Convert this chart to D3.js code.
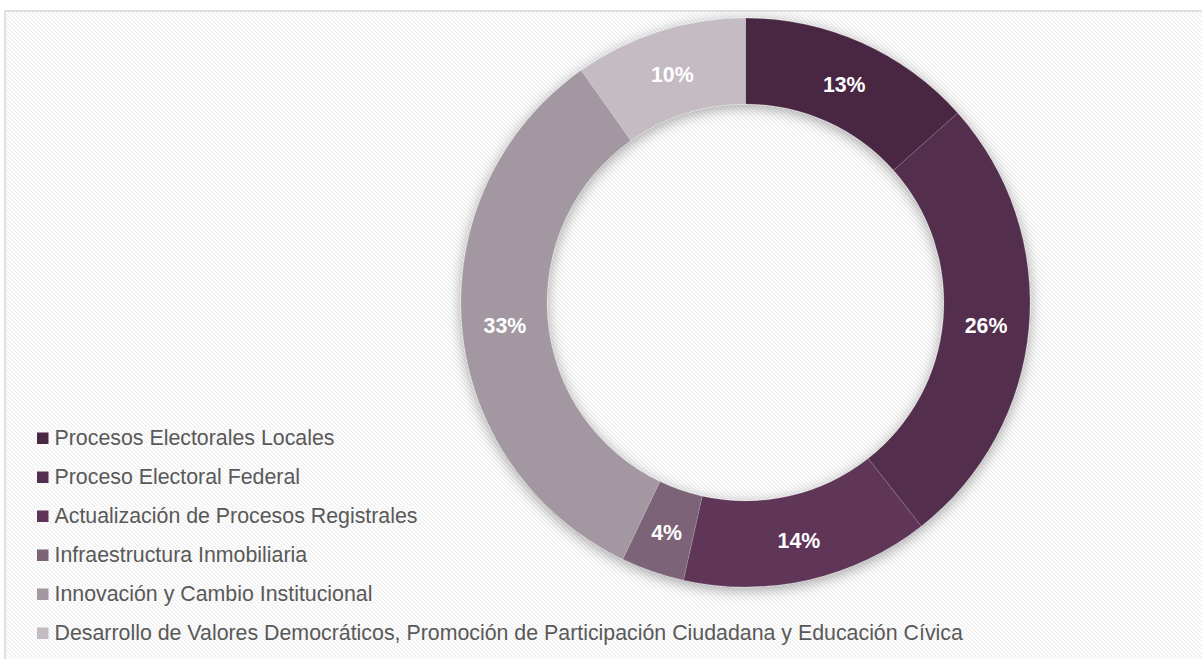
<!DOCTYPE html>
<html>
<head>
<meta charset="utf-8">
<script src="https://cdn.jsdelivr.net/npm/d3@7"></script>
<style>
  html, body { margin: 0; padding: 0; background: #ffffff; }
  svg { display: block; }
</style>
</head>
<body>
<svg id="chart" width="1202" height="659"></svg>
<script>
const categories = [
  "Procesos Electorales Locales",
  "Proceso Electoral Federal",
  "Actualización de Procesos Registrales",
  "Infraestructura Inmobiliaria",
  "Innovación y Cambio Institucional",
  "Desarrollo de Valores Democráticos, Promoción de Participación Ciudadana y Educación Cívica"
];
const values = [13.4, 26.0, 14.1, 3.6, 33.1, 9.8];
const labels = ["13%", "26%", "14%", "4%", "33%", "10%"];
const colors = ["#4a2742", "#532e4e", "#5e3558", "#7b6478", "#a397a1", "#c4bbc3"];

const W = 1202, H = 659;
const svg = d3.select("#chart");
const defs = svg.append("defs");

const pat = defs.append("pattern")
  .attr("id", "hatch").attr("patternUnits", "userSpaceOnUse")
  .attr("width", 4).attr("height", 4);
pat.append("rect").attr("width", 4).attr("height", 4).attr("fill", "#ffffff");
pat.append("path").attr("d", "M-1,-1 L5,5 M-1,3 L1,5 M3,-1 L5,1")
  .attr("stroke", "#eeeeee").attr("stroke-width", 1.2);

const f = defs.append("filter").attr("id", "shadow")
  .attr("x", "-20%").attr("y", "-20%").attr("width", "140%").attr("height", "140%");
f.append("feDropShadow").attr("dx", 0).attr("dy", 3).attr("stdDeviation", 7)
  .attr("flood-color", "#000").attr("flood-opacity", 0.35);

// background + border
svg.append("rect").attr("x", 5).attr("y", 11).attr("width", W).attr("height", H)
  .attr("fill", "url(#hatch)").attr("stroke", "#d9d9d9").attr("stroke-width", 1.5);

const cx = 745.5, cy = 302.5, R = 284.5, r = 198.5;
const pie = d3.pie().sort(null).value(d => d)(values);
const arc = d3.arc().innerRadius(r).outerRadius(R);
const labelArc = d3.arc().innerRadius((R + r) / 2).outerRadius((R + r) / 2);

const g = svg.append("g").attr("transform", `translate(${cx},${cy})`);
g.append("g").attr("filter", "url(#shadow)")
  .selectAll("path").data(pie).join("path")
  .attr("d", arc)
  .attr("fill", (d, i) => colors[i])
  .attr("stroke", "rgba(255,255,255,0.25)").attr("stroke-width", 0.6);

g.selectAll("text.lbl").data(pie).join("text")
  .attr("class", "lbl")
  .attr("transform", d => `translate(${labelArc.centroid(d)})`)
  .attr("text-anchor", "middle").attr("dy", "0.45em")
  .attr("font-family", "Liberation Sans, Arial, sans-serif")
  .attr("font-weight", "bold").attr("font-size", "21.3px")
  .attr("fill", "#ffffff")
  .text((d, i) => labels[i]);

// legend
const lg = svg.append("g");
const ly = d3.scaleBand().domain(d3.range(categories.length)).range([418, 652]);
const items = lg.selectAll("g").data(categories).join("g")
  .attr("transform", (d, i) => `translate(37, ${ly(i) + ly.bandwidth() / 2})`);
items.append("rect").attr("x", 0).attr("y", -5).attr("width", 11.5).attr("height", 11.5)
  .attr("fill", (d, i) => colors[i]);
items.append("text").attr("x", 17.5).attr("y", 0).attr("dy", "0.36em")
  .attr("font-family", "Liberation Sans, Arial, sans-serif")
  .attr("font-size", "21.35px").attr("fill", "#595959")
  .text(d => d);
</script>
</body>
</html>
